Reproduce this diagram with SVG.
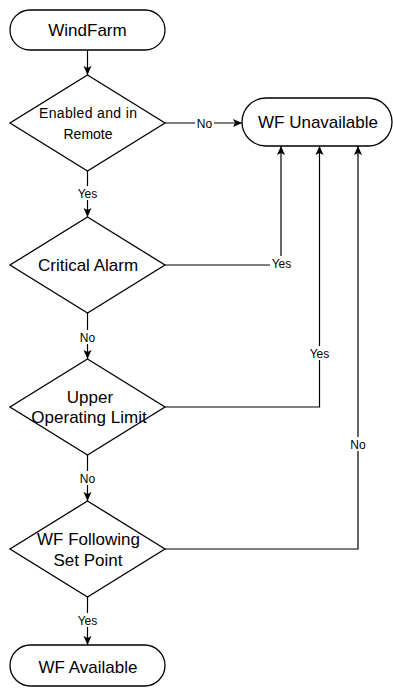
<svg xmlns="http://www.w3.org/2000/svg" width="393" height="690" viewBox="0 0 393 690">
  <style>
    .shape { fill: #fff; stroke: #000; stroke-width: 1.3; }
    .big { font-family: "Liberation Sans", Arial, sans-serif; font-size: 17px; fill: #000; text-anchor: middle; }
    .mid { font-family: "Liberation Sans", Arial, sans-serif; font-size: 14px; fill: #000; text-anchor: middle; }
    .wire { fill: none; stroke: #000; stroke-width: 1.2; }
    .lbl { font-family: "Liberation Sans", Arial, sans-serif; font-size: 12px; fill: #000; text-anchor: middle; }
    .lblbg { fill: #fff; }
  </style>
  <defs>
    <marker id="arrow" markerUnits="userSpaceOnUse" markerWidth="10" markerHeight="10" viewBox="0 0 10 10" refX="9" refY="5" orient="auto">
      <path d="M0,1 L9,5 L0,9 L2,5 Z" fill="#000"/>
    </marker>
  </defs>
  <rect width="393" height="690" fill="#fff"/>

  <!-- connectors -->
  <g id="connectors">
    <path class="wire" d="M87.5 50 V75" marker-end="url(#arrow)"/>
    <path class="wire" d="M165 123 H242" marker-end="url(#arrow)"/>
    <path class="wire" d="M87.5 171 V217" marker-end="url(#arrow)"/>
    <path class="wire" d="M165 265 H281 V146" marker-end="url(#arrow)"/>
    <path class="wire" d="M87.5 313 V359" marker-end="url(#arrow)"/>
    <path class="wire" d="M165 407 H319.5 V146" marker-end="url(#arrow)"/>
    <path class="wire" d="M87.5 455 V501" marker-end="url(#arrow)"/>
    <path class="wire" d="M165 549 H358 V146" marker-end="url(#arrow)"/>
    <path class="wire" d="M87.5 597 V645" marker-end="url(#arrow)"/>

    <!-- connector labels -->
    <rect class="lblbg" x="195" y="116" width="19" height="14"/>
    <text class="lbl" x="204.5" y="127.5">No</text>
    <rect class="lblbg" x="76" y="186" width="23" height="14"/>
    <text class="lbl" x="87.5" y="197.5">Yes</text>
    <rect class="lblbg" x="270" y="256" width="23" height="14"/>
    <text class="lbl" x="281.5" y="267.5">Yes</text>
    <rect class="lblbg" x="78" y="330" width="19" height="14"/>
    <text class="lbl" x="87.5" y="341.5">No</text>
    <rect class="lblbg" x="308" y="346" width="23" height="14"/>
    <text class="lbl" x="319.5" y="357.5">Yes</text>
    <rect class="lblbg" x="78" y="471" width="19" height="14"/>
    <text class="lbl" x="87.5" y="482.5">No</text>
    <rect class="lblbg" x="348.5" y="437" width="19" height="14"/>
    <text class="lbl" x="358" y="448.5">No</text>
    <rect class="lblbg" x="76" y="613" width="23" height="14"/>
    <text class="lbl" x="87.5" y="624.5">Yes</text>
  </g>

  <g id="windfarm">
    <rect class="shape" x="10" y="10" width="155" height="40" rx="20"/>
    <text class="big" x="87.5" y="36">WindFarm</text>
  </g>

  <g id="enabled-remote">
    <polygon class="shape" points="87.5,75 165,123 87.5,171 10,123"/>
    <text class="mid" x="88" y="118" textLength="98" lengthAdjust="spacing">Enabled and in</text>
    <text class="mid" x="88" y="139">Remote</text>
  </g>

  <g id="wf-unavailable">
    <rect class="shape" x="242" y="98" width="150" height="48" rx="24"/>
    <text class="big" x="318" y="128">WF Unavailable</text>
  </g>

  <g id="critical-alarm">
    <polygon class="shape" points="87.5,217 165,265 87.5,313 10,265"/>
    <text class="big" x="88" y="271">Critical Alarm</text>
  </g>

  <g id="upper-limit">
    <polygon class="shape" points="87.5,359 165,407 87.5,455 10,407"/>
    <text class="big" x="90" y="403">Upper</text>
    <text class="big" x="89" y="423">Operating Limit</text>
  </g>

  <g id="following-setpoint">
    <polygon class="shape" points="87.5,501 165,549 87.5,597 10,549"/>
    <text class="big" x="88.5" y="545">WF Following</text>
    <text class="big" x="88" y="566">Set Point</text>
  </g>

  <g id="wf-available">
    <rect class="shape" x="10" y="645" width="155" height="41" rx="20.5"/>
    <text class="big" x="88" y="673">WF Available</text>
  </g>
</svg>
